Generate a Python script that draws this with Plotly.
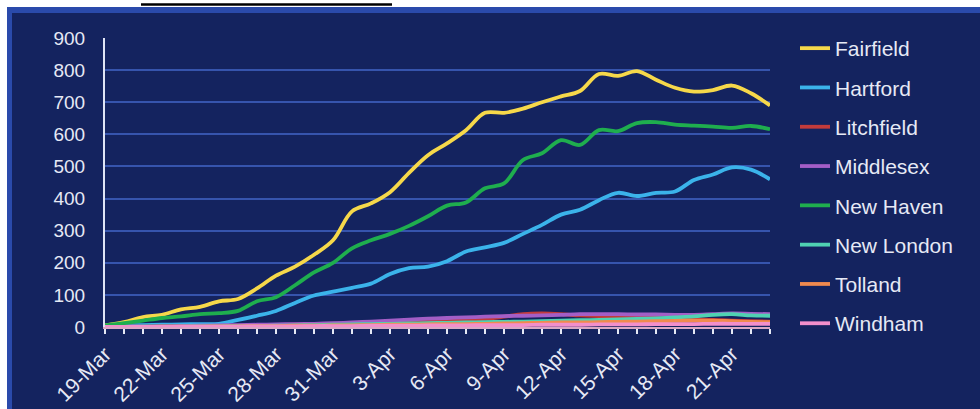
import plotly.graph_objects as go
import pandas as pd

dates = pd.date_range("2020-03-19", "2020-04-23", freq="D")

fairfield = [5, 15, 31, 38, 55, 63, 80, 87, 120, 160, 188, 225, 270, 360, 385, 420,
             480, 535, 572, 613, 667, 667, 680, 700, 718, 735, 788, 782, 797, 770,
             745, 733, 738, 752, 728, 690]
hartford = [3, 5, 6, 7, 8, 9, 10, 22, 35, 50, 75, 98, 110, 122, 135, 165, 183, 188,
            205, 235, 248, 262, 290, 318, 350, 365, 395, 418, 408, 418, 422, 458,
            475, 497, 490, 460]
litchfield = [0, 1, 1, 2, 2, 3, 3, 4, 5, 6, 7, 8, 9, 10, 12, 13, 15, 17, 19, 22, 25,
              32, 40, 42, 40, 36, 34, 32, 30, 28, 26, 24, 22, 20, 18, 17]
middlesex = [0, 1, 1, 2, 3, 4, 5, 6, 7, 8, 9, 10, 12, 14, 17, 20, 23, 26, 28, 30, 32,
             34, 35, 36, 38, 40, 40, 40, 39, 39, 38, 38, 40, 42, 41, 40]
new_haven = [5, 12, 20, 28, 33, 40, 43, 50, 80, 93, 130, 170, 200, 245, 270, 290, 315,
             345, 378, 388, 432, 447, 520, 541, 582, 567, 613, 610, 635, 638, 630, 627,
             624, 620, 626, 616]
new_london = [0, 0, 1, 1, 1, 2, 2, 3, 3, 4, 5, 6, 7, 8, 9, 10, 11, 12, 13, 14, 15, 16,
              17, 18, 20, 21, 22, 24, 25, 27, 30, 33, 38, 40, 36, 35]
tolland = [0, 0, 0, 1, 1, 1, 2, 2, 3, 3, 4, 4, 5, 5, 6, 7, 7, 8, 9, 9, 10, 11, 12, 13,
           14, 14, 15, 16, 17, 18, 19, 20, 20, 18, 16, 15]
windham = [0, 0, 0, 0, 1, 1, 1, 1, 2, 2, 2, 3, 3, 3, 4, 4, 4, 5, 5, 5, 6, 6, 6, 7, 7,
           7, 8, 8, 8, 9, 9, 9, 10, 10, 10, 10]

names = ["Fairfield", "Hartford", "Litchfield", "Middlesex", "New Haven",
         "New London", "Tolland", "Windham"]
series = [fairfield, hartford, litchfield, middlesex, new_haven, new_london,
          tolland, windham]
colors = ["#f6d84a", "#3bb3ea", "#c23b3b", "#a35ec6", "#1fae4e", "#4fd2b2",
          "#f08a4e", "#f28fcb"]

W, H = 980, 409
L, R, T, B = 105, 210, 38, 82
pw, ph = W - L - R, H - T - B


def px_x(p):
    return (p - L) / pw


def px_y(p):
    return (H - B - p) / ph


fig = go.Figure()
for i, (n, s, c) in enumerate(zip(names, series, colors)):
    fig.add_trace(go.Scatter(x=dates, y=s, name=n, mode="lines",
                             line=dict(color=c, width=3.8, shape="spline"),
                             legendgroup=n))

shapes = [
    dict(type="rect", xref="paper", yref="paper", x0=px_x(7), x1=px_x(W), y0=px_y(7),
         y1=px_y(H), fillcolor="#2a4aab", line=dict(width=0), layer="below"),
    dict(type="rect", xref="paper", yref="paper", x0=px_x(12), x1=px_x(W), y0=px_y(13),
         y1=px_y(H), fillcolor="#14235f", line=dict(width=0), layer="below"),
    dict(type="line", xref="paper", yref="paper", x0=px_x(141), x1=px_x(392),
         y0=px_y(4.5), y1=px_y(4.5), line=dict(color="black", width=2.5)),
]

fig.update_layout(
    width=W, height=H,
    margin=dict(l=L, r=R, t=T, b=B, autoexpand=False),
    paper_bgcolor="white",
    plot_bgcolor="rgba(0,0,0,0)",
    font=dict(family="Liberation Sans, Arial, sans-serif", color="#e6e9f5", size=19),
    shapes=shapes,
    showlegend=True,
    legend=dict(x=px_x(795), y=px_y(28), xanchor="left", yanchor="top",
                bgcolor="rgba(0,0,0,0)", font=dict(size=21, color="#e6e9f5"),
                tracegroupgap=9, itemwidth=30, maxheight=400),
    xaxis=dict(
        range=[dates[0], dates[-1]], automargin=False,
        tickformat="%-d-%b", tick0="2020-03-19", dtick=3 * 86400000,
        tickangle=-45, ticks="outside", ticklen=5, tickcolor="#e6e9f5", tickwidth=1.5,
        minor=dict(dtick=86400000, tick0="2020-03-19", ticks="outside", ticklen=5,
                   tickcolor="#e6e9f5", tickwidth=1.5, showgrid=False),
        showgrid=False, zeroline=False,
        showline=True, linecolor="#d9a7c4", linewidth=1.5,
        tickfont=dict(size=21),
    ),
    yaxis=dict(
        range=[0, 900], dtick=100, tick0=0, automargin=False,
        showgrid=True, gridcolor="#3654ad", gridwidth=2,
        zeroline=False, showline=True, linecolor="#dfe4f5", linewidth=2,
        ticks="", ticklabelstandoff=14, tickfont=dict(size=19),
    ),
)

fig.write_html("out.html", config={"displayModeBar": False},
               post_script="document.body.style.margin='0';")
